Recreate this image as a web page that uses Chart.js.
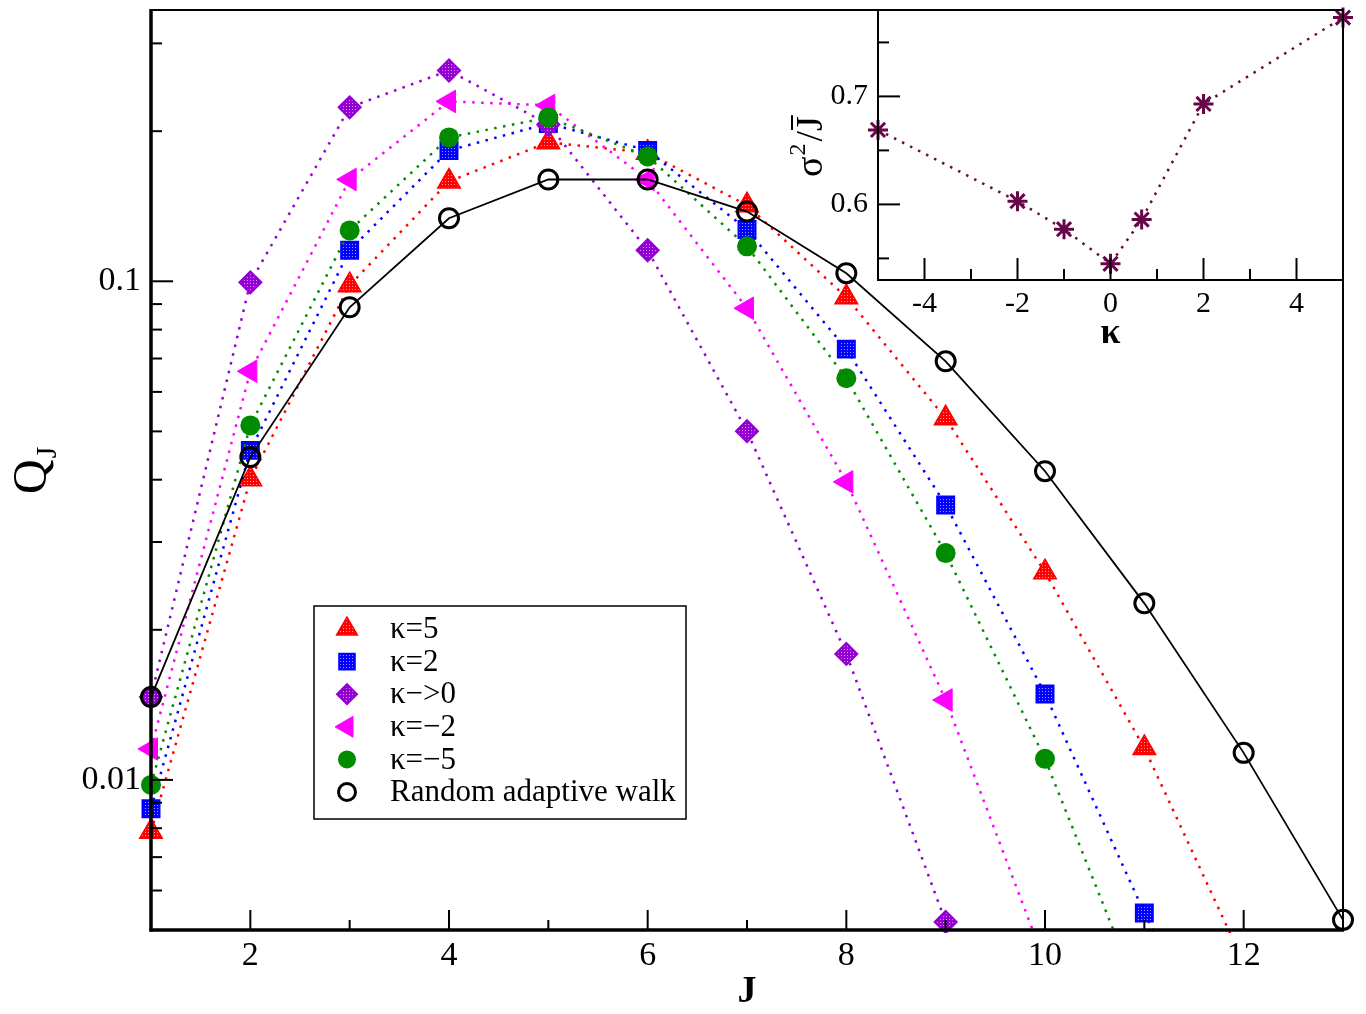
<!DOCTYPE html>
<html>
<head>
<meta charset="utf-8">
<title>Q_J vs J</title>
<script src="https://cdn.jsdelivr.net/npm/chart.js@4.4.0/dist/chart.umd.min.js"></script>
<style>
  html, body { margin: 0; padding: 0; background: #fff; }
  #wrap { position: relative; width: 1366px; height: 1014px; }
  #main { position: absolute; left: 0; top: 0; }
  #inset { position: absolute; left: 760px; top: 0; }
</style>
</head>
<body>
<div id="wrap">
  <canvas id="main" width="1366" height="1014"></canvas>
  <canvas id="inset" width="606" height="360"></canvas>
</div>
<script>
// ---- main plot data ----
const J = [1, 2, 3, 4, 5, 6, 7, 8, 9, 10, 11, 12, 13];
const kappa5 = [0.00787, 0.0401, 0.0982, 0.1586, 0.190, 0.181, 0.142, 0.0929, 0.0531, 0.0261, 0.01159, 0.0043];
const kappa2 = [0.00875, 0.0458, 0.1154, 0.183, 0.2073, 0.183, 0.127, 0.0731, 0.0356, 0.01487, 0.00541, 0.0021];
const kappa0 = [0.01466, 0.0995, 0.2233, 0.2647, 0.2063, 0.1154, 0.05005, 0.01789, 0.00519, 0.0015];
const kappaM2 = [0.01154, 0.066, 0.160, 0.2295, 0.2253, 0.160, 0.0883, 0.0396, 0.01446, 0.0043];
const kappaM5 = [0.00977, 0.0514, 0.1265, 0.1943, 0.2131, 0.178, 0.1175, 0.0639, 0.0285, 0.01102, 0.0035];
const randomWalk = [0.01466, 0.0444, 0.0887, 0.1338, 0.160, 0.160, 0.138, 0.1038, 0.0691, 0.0416, 0.0226, 0.01133, 0.00524];

// axis ticks
const xTickValues = [2, 3, 4, 5, 6, 7, 8, 9, 10, 11, 12];
const xLabelled = [2, 4, 6, 8, 10, 12];
const yTickValues = [0.006, 0.007, 0.008, 0.009, 0.01, 0.02, 0.03, 0.04, 0.05, 0.06, 0.07, 0.08, 0.09, 0.1, 0.2, 0.3];
const yLabelled = [0.01, 0.1];

// ---- inset data ----
const insetKappa = [-5, -2, -1, 0, 0.67, 2, 5];
const insetSigma = [0.669, 0.603, 0.577, 0.545, 0.586, 0.693, 0.773];
const insetXTicks = [-4, -3, -2, -1, 0, 1, 2, 3, 4];
const insetXLabelled = [-4, -2, 0, 2, 4];
const insetYTicks = [0.55, 0.6, 0.65, 0.7, 0.75];
const insetYLabelled = [0.6, 0.7];

const SERIF = "'Liberation Serif', 'Times New Roman', serif";

// hatch-like fill used by xmgrace symbols
function patternFor(ctx, color) {
    const c = document.createElement('canvas');
    c.width = 3; c.height = 3;
    const g = c.getContext('2d');
    g.fillStyle = color;
    g.fillRect(0, 0, 3, 3);
    g.fillStyle = 'rgba(255,255,255,0.6)';
    g.fillRect(1, 1, 1, 1);
    return ctx.createPattern(c, 'repeat');
}

const mainCtx = document.getElementById('main').getContext('2d');

const series = [
    { label: 'κ=5', values: kappa5, color: '#ff0000', fill: patternFor(mainCtx, '#ff0000'), style: 'triangle', rotation: 0, radius: 13, border: 1.5, order: 5 },
    { label: 'κ=2', values: kappa2, color: '#0000ff', fill: patternFor(mainCtx, '#0000ff'), style: 'rect', rotation: 0, radius: 12, border: 2, order: 4 },
    { label: 'κ\u2212>0', values: kappa0, color: '#9400d3', fill: patternFor(mainCtx, '#9400d3'), style: 'rectRot', rotation: 0, radius: 11, border: 2, order: 3 },
    { label: 'κ=\u22122', values: kappaM2, color: '#ff00ff', fill: '#ff00ff', style: 'triangle', rotation: -90, radius: 13, border: 1, order: 2 },
    { label: 'κ=\u22125', values: kappaM5, color: '#008b00', fill: '#008b00', style: 'circle', rotation: 0, radius: 10, border: 0, order: 1 },
    { label: 'Random adaptive walk', values: randomWalk, color: '#000000', fill: 'rgba(0,0,0,0)', style: 'circle', rotation: 0, radius: 9.5, border: 3, order: 0 }
];

const datasets = series.map(s => ({
    label: s.label,
    data: s.values.map((v, i) => ({ x: J[i], y: v })),
    order: s.order,
    borderColor: s.color,
    borderWidth: s.order === 0 ? 1.8 : 2.5,
    borderDash: s.order === 0 ? [] : [2.5, 6.5],
    pointStyle: s.style,
    pointRotation: s.rotation,
    pointRadius: s.radius,
    pointBorderWidth: s.border,
    pointBorderColor: s.color,
    pointBackgroundColor: s.fill,
    tension: 0,
    fill: false,
    clip: { left: 20, right: 20, top: 5, bottom: 3 }
}));

function line(ctx, x1, y1, x2, y2) {
    ctx.beginPath();
    ctx.moveTo(x1, y1);
    ctx.lineTo(x2, y2);
    ctx.stroke();
}

// empty tick labels still reserve half a line of padding; drop it
function noVerticalPadding(s) {
    s.paddingTop = 0;
    s.paddingBottom = 0;
}

// frame, inward ticks, axis titles and the boxed legend
const mainDecor = {
    id: 'mainDecor',
    afterDraw(chart) {
        const { ctx, chartArea: a, scales: { x, y } } = chart;
        ctx.save();
        ctx.strokeStyle = '#000';
        ctx.fillStyle = '#000';

        ctx.lineWidth = 2;
        line(ctx, a.left, a.top, a.right, a.top);
        line(ctx, a.right, a.top, a.right, a.bottom);
        ctx.lineWidth = 3.5;
        line(ctx, a.left, a.top - 1, a.left, a.bottom + 1.5);
        line(ctx, a.left - 1.5, a.bottom, a.right + 1, a.bottom);

        ctx.lineWidth = 2;
        xTickValues.forEach(v => {
            const px = x.getPixelForValue(v);
            line(ctx, px, a.bottom, px, a.bottom - (xLabelled.includes(v) ? 20 : 10));
        });
        yTickValues.forEach(v => {
            const py = y.getPixelForValue(v);
            line(ctx, a.left, py, a.left + (yLabelled.includes(v) ? 22 : 11), py);
        });

        // x title
        ctx.font = 'bold 38px ' + SERIF;
        ctx.textAlign = 'center';
        ctx.textBaseline = 'alphabetic';
        ctx.fillText('J', (a.left + a.right) / 2, 1002);

        // y title Q_J
        ctx.save();
        ctx.translate(46, (a.top + a.bottom) / 2 + 24);
        ctx.rotate(-Math.PI / 2);
        ctx.textAlign = 'left';
        ctx.font = '48px ' + SERIF;
        ctx.fillText('Q', 0, 0);
        const qw = ctx.measureText('Q').width;
        ctx.font = '30px ' + SERIF;
        ctx.fillText('J', qw + 1, 10);
        ctx.restore();

        // legend box
        const lx = 314, ly = 606, lw = 372, lh = 213;
        ctx.fillStyle = '#fff';
        ctx.fillRect(lx, ly, lw, lh);
        ctx.lineWidth = 1.5;
        ctx.strokeRect(lx, ly, lw, lh);
        ctx.font = '31px ' + SERIF;
        ctx.textAlign = 'left';
        ctx.textBaseline = 'middle';
        series.forEach((s, i) => {
            const ry = 629 + i * 32.6;
            ctx.fillStyle = s.fill;
            ctx.strokeStyle = s.color;
            ctx.lineWidth = s.border;
            Chart.helpers.drawPoint(ctx, {
                pointStyle: s.style,
                rotation: s.rotation,
                radius: s.style === 'circle' && s.order === 0 ? 8.5 : s.radius - 1,
                borderWidth: s.border
            }, 347, ry);
            ctx.fillStyle = '#000';
            ctx.fillText(s.label, 390, ry + 1);
        });
        ctx.restore();
    }
};

new Chart(mainCtx, {
    type: 'line',
    data: { datasets },
    options: {
        responsive: false,
        animation: false,
        events: [],
        layout: { autoPadding: false, padding: { left: 0, right: 23, top: 10, bottom: 0 } },
        plugins: {
            legend: { display: false },
            tooltip: { enabled: false }
        },
        scales: {
            x: {
                type: 'linear',
                min: 1,
                max: 13,
                afterFit: s => { s.height = 84; s.paddingLeft = 0; s.paddingRight = 0; },
                afterBuildTicks: s => { s.ticks = J.map(v => ({ value: v })); },
                grid: { display: false, drawTicks: false },
                border: { display: false },
                ticks: {
                    autoSkip: false,
                    maxRotation: 0,
                    padding: 6,
                    color: '#000',
                    font: { family: SERIF, size: 34 },
                    callback: v => xLabelled.includes(v) ? String(v) : ''
                }
            },
            y: {
                type: 'logarithmic',
                min: 0.005,
                max: 0.35,
                afterFit: s => { s.width = 151; noVerticalPadding(s); },
                afterBuildTicks: s => { s.ticks = yTickValues.map(v => ({ value: v })); },
                grid: { display: false, drawTicks: false },
                border: { display: false },
                ticks: {
                    autoSkip: false,
                    padding: 10,
                    color: '#000',
                    font: { family: SERIF, size: 34 },
                    callback: v => yLabelled.includes(v) ? String(v) : ''
                }
            }
        }
    },
    plugins: [mainDecor]
});

// ---- inset ----
const insetDecor = {
    id: 'insetDecor',
    beforeDatasetsDraw(chart) {
        const { ctx, chartArea: a } = chart;
        ctx.save();
        ctx.fillStyle = '#fff';
        ctx.fillRect(a.left, a.top, a.right - a.left, a.bottom - a.top);
        ctx.restore();
    },
    afterDraw(chart) {
        const { ctx, chartArea: a, scales: { x, y } } = chart;
        ctx.save();
        ctx.strokeStyle = '#000';
        ctx.fillStyle = '#000';
        ctx.lineWidth = 2;
        ctx.strokeRect(a.left, a.top, a.right - a.left, a.bottom - a.top);

        insetXTicks.forEach(v => {
            const px = x.getPixelForValue(v);
            line(ctx, px, a.bottom, px, a.bottom - (insetXLabelled.includes(v) ? 22 : 11));
        });
        insetYTicks.forEach(v => {
            const py = y.getPixelForValue(v);
            line(ctx, a.left, py, a.left + (insetYLabelled.includes(v) ? 22 : 11), py);
        });

        // kappa title
        ctx.font = 'bold 36px ' + SERIF;
        ctx.textAlign = 'center';
        ctx.textBaseline = 'alphabetic';
        ctx.fillText('κ', (a.left + a.right) / 2, 343);

        // sigma^2 / J-bar, rotated
        ctx.save();
        ctx.translate(62, 177);
        ctx.rotate(-Math.PI / 2);
        ctx.textAlign = 'left';
        ctx.font = '38px ' + SERIF;
        ctx.fillText('σ', 0, 0);
        let w = ctx.measureText('σ').width;
        ctx.font = '24px ' + SERIF;
        ctx.fillText('2', w + 1, -17);
        w += ctx.measureText('2').width + 3;
        ctx.font = '38px ' + SERIF;
        ctx.fillText('/', w, 0);
        w += ctx.measureText('/').width;
        ctx.fillText('J', w, 0);
        ctx.fillRect(w + 1, -31, ctx.measureText('J').width, 2);
        ctx.restore();
        ctx.restore();
    }
};

new Chart(document.getElementById('inset'), {
    type: 'line',
    data: {
        datasets: [{
            data: insetKappa.map((k, i) => ({ x: k, y: insetSigma[i] })),
            borderColor: '#670748',
            borderWidth: 2.5,
            borderDash: [2.5, 6.5],
            pointStyle: 'star',
            pointRadius: 10,
            pointBorderWidth: 3,
            pointBorderColor: '#670748',
            pointBackgroundColor: '#670748',
            tension: 0,
            fill: false,
            clip: { left: 12, right: 12, top: 12, bottom: 2 }
        }]
    },
    options: {
        responsive: false,
        animation: false,
        events: [],
        layout: { autoPadding: false, padding: { left: 0, right: 23, top: 10, bottom: 0 } },
        plugins: {
            legend: { display: false },
            tooltip: { enabled: false }
        },
        scales: {
            x: {
                type: 'linear',
                min: -5,
                max: 5,
                afterFit: s => { s.height = 80; s.paddingLeft = 0; s.paddingRight = 0; },
                afterBuildTicks: s => { s.ticks = insetXTicks.map(v => ({ value: v })); },
                grid: { display: false, drawTicks: false },
                border: { display: false },
                ticks: {
                    autoSkip: false,
                    maxRotation: 0,
                    padding: 6,
                    color: '#000',
                    font: { family: SERIF, size: 30 },
                    callback: v => insetXLabelled.includes(v) ? String(v) : ''
                }
            },
            y: {
                type: 'linear',
                min: 0.53,
                max: 0.78,
                afterFit: s => { s.width = 118; noVerticalPadding(s); },
                afterBuildTicks: s => { s.ticks = insetYTicks.map(v => ({ value: v })); },
                grid: { display: false, drawTicks: false },
                border: { display: false },
                ticks: {
                    autoSkip: false,
                    padding: 10,
                    color: '#000',
                    font: { family: SERIF, size: 30 },
                    callback: v => insetYLabelled.includes(v) ? v.toFixed(1) : ''
                }
            }
        }
    },
    plugins: [insetDecor]
});
</script>
</body>
</html>
